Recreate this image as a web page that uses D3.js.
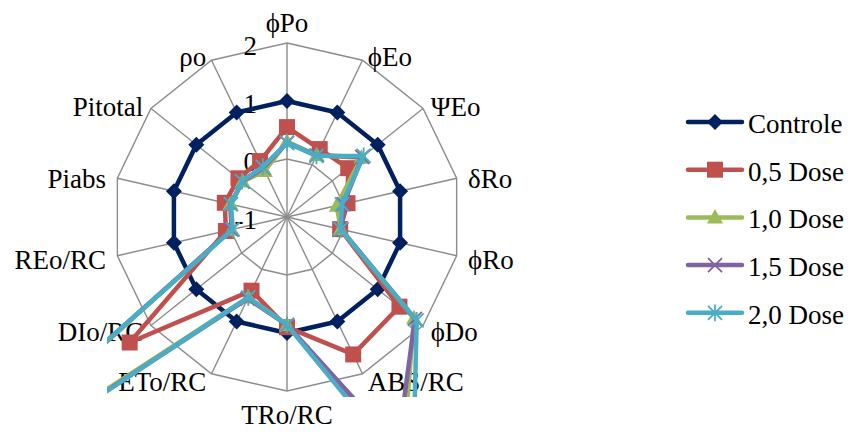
<!DOCTYPE html>
<html>
<head>
<meta charset="utf-8">
<script src="https://cdn.jsdelivr.net/npm/d3@7"></script>
<style>
  html, body { margin: 0; padding: 0; background: #fff; }
  svg { display: block; }
  text { font-family: "Liberation Serif", "Times New Roman", serif; fill: #000; }
</style>
</head>
<body>
<svg id="chart" width="855" height="434"></svg>
<script>
// ---- data ----
const axes = ["\u03D5Po", "\u03D5Eo", "\u03A8Eo", "\u03B4Ro", "\u03D5Ro", "\u03D5Do", "ABS/RC",
              "TRo/RC", "ETo/RC", "DIo/RC", "REo/RC", "Piabs", "Pitotal", "\u03C1o"];
const seriesNames = ["Controle", "0,5 Dose", "1,0 Dose", "1,5 Dose", "2,0 Dose"];
const controle = [1, 1, 1, 1, 1, 1, 1, 1, 1, 1, 1, 1, 1, 1];
const dose05   = [0.55, 0.30, 0.35, 0.07, -0.06, 1.48, 1.63, 0.90, 0.41, 2.47, 0.08, 0.10, 0.07, 0.07];
const dose10   = [0.30, 0.18, 0.64, -0.12, -0.05, 1.80, 3.60, 0.86, 0.54, 7.2, -0.02, 0.00, -0.02, -0.12];
const dose15   = [0.28, 0.18, 0.66, 0.00, -0.04, 1.82, 3.40, 0.86, 0.56, 7.6, -0.02, 0.00, -0.02, -0.06];
const dose20   = [0.28, 0.17, 0.69, -0.03, -0.05, 1.86, 4.00, 0.86, 0.54, 8.0, -0.04, -0.01, -0.01, -0.04];
const tickValues = [-1, 0, 1, 2];
const tickLabels = ["-1", "0", "1", "2"];

// ---- layout ----
const svg = d3.select("#chart");
const cx = 287, cy = 217, R = 174;
const colors = ["#002060", "#C0504D", "#9BBB59", "#8064A2", "#4BACC6"];
const markers = ["diamond", "square", "triangle", "x", "star"];
const allSeries = [controle, dose05, dose10, dose15, dose20];
const fontSize = 27;

const r = d3.scaleLinear().domain([-1, 2]).range([0, R]);
const angle = d3.scaleLinear().domain([0, axes.length]).range([0, 2 * Math.PI]);

const g = svg.append("g").attr("transform", `translate(${cx},${cy})`);

// grid rings (polygons) at values 0,1,2
const ringLine = d3.lineRadial().angle((d, i) => angle(i)).radius(d => r(d)).curve(d3.curveLinearClosed);
tickValues.filter(v => v > -1).forEach(v => {
  g.append("path").attr("d", ringLine(axes.map(() => v)))
    .attr("fill", "none").attr("stroke", "#8c8c8c").attr("stroke-width", 1.4);
});
// spokes
axes.forEach((a, i) => {
  const t = angle(i);
  g.append("line").attr("x1", 0).attr("y1", 0)
    .attr("x2", R * Math.sin(t)).attr("y2", -R * Math.cos(t))
    .attr("stroke", "#8c8c8c").attr("stroke-width", 1.4);
});

// tick labels along the first axis
tickValues.forEach((v, i) => {
  g.append("text").attr("x", -30).attr("y", -r(v) + 3).attr("dy", "0.35em")
    .attr("text-anchor", "end").attr("font-size", fontSize).text(tickLabels[i]);
});

// axis labels
axes.forEach((a, i) => {
  const t = angle(i);
  const s = Math.sin(t), c = Math.cos(t);
  const vx = R * s, vy = -R * c;
  const txt = g.append("text").attr("font-size", fontSize).text(a);
  if (Math.abs(s) < 0.01) {
    txt.attr("text-anchor", "middle").attr("x", vx);
    if (c > 0) txt.attr("y", vy - 11);
    else txt.attr("y", vy + 33);
  } else {
    const off = 5 + 7 * Math.pow(Math.abs(s), 4);
    txt.attr("text-anchor", s > 0 ? "start" : "end")
      .attr("x", vx + (s > 0 ? off : -off))
      .attr("y", vy + 2 - 6 * c).attr("dy", "0.35em");
  }
});

// clip for plot area
svg.append("clipPath").attr("id", "plotclip").append("rect")
  .attr("x", 107 - cx).attr("y", 30 - cy).attr("width", 380).attr("height", 397 - 30);

function markerPath(type, s) {
  switch (type) {
    case "diamond": return `M0,${-s}L${s},0L0,${s}L${-s},0Z`;
    case "square": return `M${-s},${-s}H${s}V${s}H${-s}Z`;
    case "triangle": return `M0,${-s * 1.05}L${s},${s * 0.75}L${-s},${s * 0.75}Z`;
    case "x": return `M${-s},${-s}L${s},${s}M${-s},${s}L${s},${-s}`;
    case "star": return `M${-s},${-s}L${s},${s}M${-s},${s}L${s},${-s}M0,${-s * 1.2}V${s * 1.2}`;
  }
}
const markerSize = [8, 8, 8, 7, 7];

const plot = g.append("g").attr("clip-path", "url(#plotclip)");
const line = d3.lineRadial().angle((d, i) => angle(i)).radius(d => r(d)).curve(d3.curveLinearClosed);

allSeries.forEach((vals, k) => {
  const sg = plot.append("g");
  sg.append("path").attr("d", line(vals)).attr("fill", "none")
    .attr("stroke", colors[k]).attr("stroke-width", 4.5).attr("stroke-linejoin", "round");
  vals.forEach((v, i) => {
    const t = angle(i);
    const x = r(v) * Math.sin(t), y = -r(v) * Math.cos(t);
    const m = sg.append("path").attr("d", markerPath(markers[k], markerSize[k]))
      .attr("transform", `translate(${x},${y})`);
    if (markers[k] === "x" || markers[k] === "star") {
      m.attr("fill", "none").attr("stroke", colors[k]).attr("stroke-width", 1.8);
    } else {
      m.attr("fill", colors[k]).attr("stroke", "none");
    }
  });
});

// legend
const lg = svg.append("g");
seriesNames.forEach((name, k) => {
  const y = 122 + k * 47.7;
  lg.append("line").attr("x1", 688).attr("x2", 742).attr("y1", y).attr("y2", y)
    .attr("stroke", colors[k]).attr("stroke-width", 4.5).attr("stroke-linecap", "round");
  const m = lg.append("path").attr("d", markerPath(markers[k], markerSize[k]))
    .attr("transform", `translate(715,${y})`);
  if (markers[k] === "x" || markers[k] === "star") {
    m.attr("fill", "none").attr("stroke", colors[k]).attr("stroke-width", 1.8);
  } else {
    m.attr("fill", colors[k]);
  }
  lg.append("text").attr("x", 748).attr("y", y + 1.5).attr("dy", "0.35em")
    .attr("font-size", fontSize).text(name);
});
</script>
</body>
</html>
